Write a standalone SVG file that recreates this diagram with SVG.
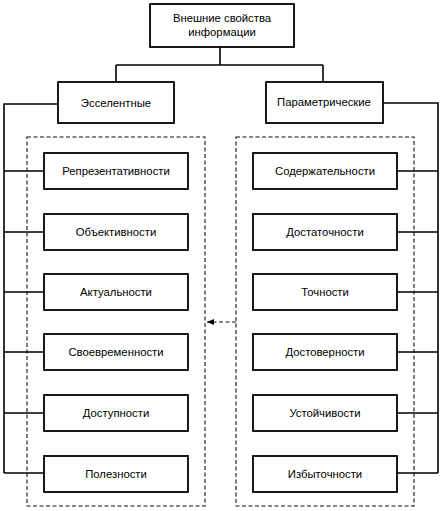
<svg xmlns="http://www.w3.org/2000/svg" width="442" height="511" viewBox="0 0 442 511">
<style>
.box{fill:#fff;stroke:#000;stroke-width:1.8}
.dash{fill:none;stroke:#111;stroke-width:1.1;stroke-dasharray:4,2.5}
.ln{fill:none;stroke:#000;stroke-width:1.6}
text{font-family:"Liberation Sans",Arial,sans-serif;font-size:11.3px;text-anchor:middle;fill:#000}
</style>
<defs>
<marker id="ah" markerWidth="8" markerHeight="6" refX="7" refY="3" orient="auto" markerUnits="userSpaceOnUse">
<path d="M0,0 L7,3 L0,6 z" fill="#000"/>
</marker>
</defs>
<rect width="442" height="511" fill="#fff"/>
<g id="connectors">
<path class="ln" d="M220,47 V65 M116,65 H323 M116,65 V82 M323,65 V82"/>
<path class="ln" d="M58,104 H4 V473"/>
<path class="ln" d="M4,171 H44 M4,232 H44 M4,292 H44 M4,352 H44 M4,413 H44 M4,473 H44"/>
<path class="ln" d="M383,103 H438 V473"/>
<path class="ln" d="M397,171 H438 M397,232 H438 M397,292 H438 M397,352 H438 M397,413 H438 M397,473 H438"/>
<path class="dash" d="M236,322 H207" marker-end="url(#ah)"/>
</g>
<g id="group-left"><rect class="dash" x="27" y="137" width="178" height="369"/></g>
<g id="group-right"><rect class="dash" x="236" y="137" width="178" height="369"/></g>
<g id="root"><rect class="box" x="150" y="4" width="144" height="43"/><text x="222" y="22">Внешние свойства</text><text x="222" y="36">информации</text></g>
<g id="esselent"><rect class="box" x="58" y="82" width="116" height="41"/><text x="116" y="107">Эсселентные</text></g>
<g id="param"><rect class="box" x="266" y="82" width="117" height="41"/><text x="324" y="106">Параметрические</text></g>
<g id="l1"><rect class="box" x="44" y="153" width="144" height="36"/><text x="116" y="175">Репрезентативности</text></g>
<g id="l2"><rect class="box" x="44" y="214" width="144" height="36"/><text x="116" y="236">Объективности</text></g>
<g id="l3"><rect class="box" x="44" y="274" width="144" height="36"/><text x="116" y="296">Актуальности</text></g>
<g id="l4"><rect class="box" x="44" y="334" width="144" height="36"/><text x="116" y="356">Своевременности</text></g>
<g id="l5"><rect class="box" x="44" y="395" width="144" height="36"/><text x="116" y="417">Доступности</text></g>
<g id="l6"><rect class="box" x="44" y="456" width="144" height="36"/><text x="116" y="478">Полезности</text></g>
<g id="r1"><rect class="box" x="253" y="153" width="144" height="36"/><text x="325" y="175">Содержательности</text></g>
<g id="r2"><rect class="box" x="253" y="214" width="144" height="36"/><text x="325" y="236">Достаточности</text></g>
<g id="r3"><rect class="box" x="253" y="274" width="144" height="36"/><text x="325" y="296">Точности</text></g>
<g id="r4"><rect class="box" x="253" y="334" width="144" height="36"/><text x="325" y="356">Достоверности</text></g>
<g id="r5"><rect class="box" x="253" y="395" width="144" height="36"/><text x="325" y="417">Устойчивости</text></g>
<g id="r6"><rect class="box" x="253" y="456" width="144" height="36"/><text x="325" y="478">Избыточности</text></g>
</svg>
